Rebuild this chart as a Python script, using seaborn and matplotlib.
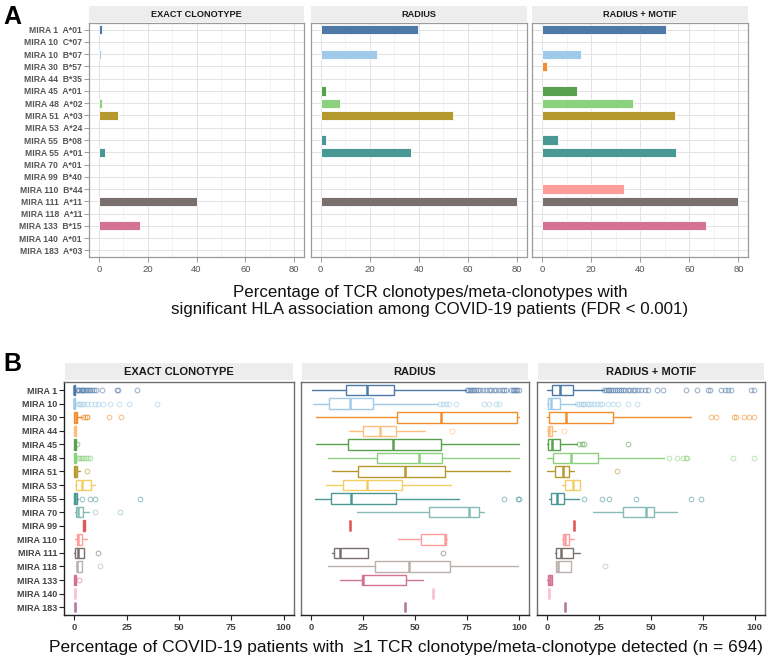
import numpy as np
import pandas as pd
import matplotlib
matplotlib.use("Agg")
import matplotlib.pyplot as plt
import seaborn as sns
from matplotlib.ticker import MultipleLocator, FixedLocator

sns.set_theme(style="white")
plt.rcParams['font.family'] = ['Liberation Sans', 'DejaVu Sans']

# ---------------- Panel A data ----------------
a_mira = ["MIRA 1", "MIRA 10", "MIRA 10", "MIRA 30", "MIRA 44", "MIRA 45", "MIRA 48",
          "MIRA 51", "MIRA 53", "MIRA 55", "MIRA 55", "MIRA 70", "MIRA 99", "MIRA 110",
          "MIRA 111", "MIRA 118", "MIRA 133", "MIRA 140", "MIRA 183"]
a_hla = ["A*01", "C*07", "B*07", "B*57", "B*35", "A*01", "A*02", "A*03", "A*24", "B*08",
         "A*01", "A*01", "B*40", "B*44", "A*11", "A*11", "B*15", "A*01", "A*03"]
a_exact = [1.5, 0, 0.8, 0, 0, 0, 1.2, 7.9, 0, 0, 2.4, 0, 0, 0, 40.3, 0, 16.8, 0, 0]
a_radius = [39.9, 0, 22.9, 0, 0, 2.4, 7.9, 54.0, 0, 2.2, 37.0, 0, 0, 0, 80.0, 0, 0, 0, 0]
a_motif = [50.3, 0, 15.9, 2.0, 0, 14.4, 37.0, 54.0, 0, 6.6, 54.4, 0, 0, 33.4, 80.0, 0, 66.7, 0, 0]
facet_names = ["EXACT CLONOTYPE", "RADIUS", "RADIUS + MOTIF"]

# ---------------- Panel B data ----------------
b_mira = ["MIRA 1", "MIRA 10", "MIRA 30", "MIRA 44", "MIRA 45", "MIRA 48", "MIRA 51",
          "MIRA 53", "MIRA 55", "MIRA 70", "MIRA 99", "MIRA 110", "MIRA 111", "MIRA 118",
          "MIRA 133", "MIRA 140", "MIRA 183"]

mira_colors = ["#4E79A7", "#A0CBE8", "#F28E2B", "#FFBE7D", "#59A14F", "#8CD17D", "#B6992D",
               "#F1CE63", "#499894", "#86BCB6", "#E15759", "#FF9D9A", "#79706E", "#BAB0AC",
               "#D37295", "#FABFD2", "#B07AA1"]

# exact clonotype
ex_lo  = [0, 0, 0, 0, 0, 0, 0, 0.3, 0, 0.3, 4.6, 0.2, 0, 0.6, 0, 0.2, 0.3]
ex_q1  = [0, 0, 0, 0, 0, 0, 0, 0.6, 0, 0.6, 4.2, 1.0, 0.3, 1.0, 0, 0.2, 0.3]
ex_med = [0, 0, 0.5, 0.1, 0.2, 0.2, 0.4, 3.4, 0.3, 1.8, 4.6, 1.8, 1.8, 1.3, 0.2, 0.2, 0.3]
ex_q3  = [0.4, 0.4, 1.3, 0.5, 0.9, 0.9, 1.2, 7.7, 1.3, 4.2, 5.0, 3.7, 4.5, 3.8, 0.6, 0.2, 0.3]
ex_hi  = [0.9, 0.9, 3.4, 0.5, 0.9, 1.3, 2.5, 9.9, 1.9, 7.0, 4.6, 6.1, 4.5, 3.8, 0.6, 0.2, 0.3]
ex_fl = [
    [1.2, 1.8, 2.4, 3.0, 3.6, 4.2, 4.8, 5.4, 6.0, 6.8, 7.6, 8.5, 9.4, 10.3, 13.4, 20.4, 21.0, 29.7],
    [1.2, 2.0, 2.8, 3.6, 4.4, 5.8, 8.1, 9.7, 11.3, 13.7, 17.0, 21.1, 26.2, 39.3],
    [4.2, 5.0, 5.8, 6.2, 16.6, 22.2],
    [],
    [1.4],
    [1.6, 2.3, 3.0, 3.8, 4.5, 5.4, 6.4, 7.6],
    [5.9],
    [],
    [3.4, 7.3, 9.7, 31.3],
    [9.7, 21.7],
    [], [], [11.3], [12.1], [2.2], [], [],
]

# radius
ra_lo  = [0.3, 0.8, 2.6, 18.2, 2.4, 8.1, 9.9, 7.0, 1.9, 21.9, 18.5, 41.9, 9.9, 8.3, 14.0, 58.7, 45.1]
ra_q1  = [16.6, 8.6, 41.3, 25.2, 17.9, 31.6, 22.8, 15.2, 9.6, 56.6, 18.5, 53.1, 10.8, 30.6, 24.4, 58.7, 45.1]
ra_med = [26.8, 18.5, 62.5, 33.3, 39.6, 51.7, 45.3, 27.1, 19.3, 75.8, 18.5, 64.6, 14.0, 46.9, 25.2, 58.7, 45.1]
ra_q3  = [40.0, 29.7, 99.0, 40.8, 62.4, 63.0, 64.4, 43.9, 40.8, 80.9, 18.5, 65.0, 27.6, 66.7, 45.5, 58.7, 45.1]
ra_hi  = [74.6, 61.0, 100.0, 54.9, 100.0, 100.0, 95.7, 67.5, 71.0, 83.1, 18.5, 65.6, 27.6, 99.4, 54.0, 58.7, 45.1]
ra_fl = [
    [75.0, 75.6, 76.3, 77.0, 77.8, 78.6, 79.5, 80.5, 81.5, 82.8, 84.0, 85.5, 86.8, 88.0, 89.2,
     90.5, 91.8, 93.0, 94.0, 96.3, 97.0, 97.8, 98.5, 99.2, 100.0],
    [61.9, 63.4, 65.0, 66.6, 69.5, 83.4, 85.8, 89.0, 90.6],
    [], [68.0], [], [], [], [],
    [92.8, 99.8, 100.0],
    [], [], [], [63.6], [], [], [], [],
]

# radius + motif
rm_lo  = [0, 0, 0, 0, 0, 0, 0, 7.2, 1.1, 21.9, 12.9, 7.3, 3.8, 4.1, 0, 0.8, 8.5]
rm_q1  = [2.6, 0.5, 1.0, 0.3, 0.5, 3.0, 3.8, 8.6, 2.1, 36.8, 12.9, 7.8, 4.5, 4.1, 0.3, 0.8, 8.5]
rm_med = [6.2, 1.8, 8.9, 1.1, 2.2, 11.3, 7.8, 12.6, 4.9, 47.5, 12.9, 8.5, 6.5, 5.1, 1.4, 0.8, 8.5]
rm_q3  = [12.6, 6.2, 31.7, 2.6, 6.2, 24.7, 10.4, 15.8, 8.1, 51.7, 12.9, 10.7, 12.4, 11.3, 2.6, 0.8, 8.5]
rm_hi  = [27.3, 13.7, 69.5, 4.1, 14.5, 56.5, 12.9, 15.8, 15.5, 62.7, 12.9, 13.1, 15.8, 11.3, 2.6, 0.8, 8.5]
rm_fl = [
    [27.5, 28.3, 29.2, 30.0, 30.9, 31.8, 32.7, 33.6, 34.6, 35.6, 36.6, 37.6, 38.8, 40.0, 41.3,
     42.6, 44.0, 45.4, 47.0, 48.8, 52.8, 56.0, 66.8, 72.0, 77.5, 78.3, 83.9, 85.5, 87.0, 88.7, 98.2, 99.8],
    [14.5, 15.3, 16.2, 17.1, 18.0, 19.0, 20.0, 21.2, 22.5, 24.0, 25.4, 26.5, 29.3, 32.0, 34.4, 39.2, 43.5],
    [78.8, 81.5, 90.3, 91.0, 95.0, 97.4, 99.8],
    [8.1],
    [15.3, 16.6, 17.7, 38.9],
    [58.7, 62.4, 65.6, 66.8, 67.5, 89.5, 99.8],
    [33.7],
    [],
    [18.0, 26.3, 29.7, 42.9, 69.4, 74.3],
    [], [], [], [], [28.0], [], [], [],
]

W, H = 768, 659
fig = plt.figure(figsize=(W / 100, H / 100), dpi=100)


def rect(l, t, r, b):
    return [l / W, 1 - b / H, (r - l) / W, (b - t) / H]


def strip(l, t, r, b, text, size):
    sa = fig.add_axes(rect(l, t, r, b))
    sa.set_facecolor("#EDEDED")
    sa.set_xticks([]); sa.set_yticks([])
    for s in sa.spines.values():
        s.set_visible(False)
    sa.text(0.5, 0.48, text, ha="center", va="center", fontsize=size,
            fontweight="bold", color="#1A1A1A", transform=sa.transAxes)


# ---------------- Panel A ----------------
a_labels = [f"{m}  {h}" for m, h in zip(a_mira, a_hla)]
pal_map = dict(zip(b_mira, mira_colors))
a_vals = [a_exact, a_radius, a_motif]
a_x = [(89, 304), (310.7, 526.7), (532.3, 748.3)]
for k in range(3):
    l, r = a_x[k]
    ax = fig.add_axes(rect(l, 23, r, 257))
    df = pd.DataFrame({"label": a_labels, "value": a_vals[k], "mira": a_mira})
    sns.barplot(data=df, y="label", x="value", hue="mira", palette=pal_map, order=a_labels,
                orient="h", width=0.75, dodge=False, legend=False, ax=ax,
                edgecolor="white", linewidth=0.6, saturation=1)
    for p in ax.patches:
        if p.get_width() == 0:
            p.set_visible(False)
    ax.set_xlim(-4, 84)
    ax.set_ylim(len(a_labels) - 0.5 + 0.05, -0.55)
    ax.xaxis.set_major_locator(MultipleLocator(20))
    ax.xaxis.set_minor_locator(MultipleLocator(10))
    ax.set_axisbelow(True)
    ax.grid(True, which="major", axis="both", color="#E3E3E3", linewidth=0.7)
    ax.grid(True, which="minor", axis="x", color="#F0F0F0", linewidth=0.5)
    for s in ax.spines.values():
        s.set_color("#9A9A9A"); s.set_linewidth(0.9)
    ax.set_xlabel(""); ax.set_ylabel("")
    ax.tick_params(axis="x", which="major", length=3.5, width=0.7, color="#9A9A9A",
                   labelsize=6.8, labelcolor="#555555", pad=2, bottom=True)
    ax.tick_params(axis="x", which="minor", length=0)
    if k == 0:
        ax.tick_params(axis="y", length=3.5, width=0.7, color="#9A9A9A", labelsize=6.2,
                       labelcolor="#555555", pad=1.5, left=True)
        for t in ax.get_yticklabels():
            t.set_fontweight("bold")
    else:
        ax.tick_params(axis="y", length=0, labelleft=False)
    strip(l, 6, r, 21.5, facet_names[k], 6.6)

fig.text(3 / W, 1 - 24 / H, "A", fontsize=18, fontweight="bold", ha="left", va="baseline",
         color="black")
fig.text(430 / W, 1 - 297 / H, "Percentage of TCR clonotypes/meta-clonotypes with",
         ha="center", va="baseline", fontsize=12.2, color="#111111")
fig.text(430 / W, 1 - 314 / H, "significant HLA association among COVID-19 patients (FDR < 0.001)",
         ha="center", va="baseline", fontsize=12.2, color="#111111")

# ---------------- Panel B ----------------
b_sets = [(ex_lo, ex_q1, ex_med, ex_q3, ex_hi, ex_fl),
          (ra_lo, ra_q1, ra_med, ra_q3, ra_hi, ra_fl),
          (rm_lo, rm_q1, rm_med, rm_q3, rm_hi, rm_fl)]
b_x = [(64, 294), (300.7, 529.3), (536.7, 765)]
for k in range(3):
    l, r = b_x[k]
    ax = fig.add_axes(rect(l, 381.7, r, 615))
    lo, q1, med, q3, hi, fl = b_sets[k]
    for i in range(len(b_mira)):
        c = mira_colors[i]
        st = [dict(med=med[i], q1=q1[i], q3=q3[i], whislo=lo[i], whishi=hi[i], fliers=fl[i])]
        ax.bxp(st, positions=[i], widths=0.78, orientation="horizontal", patch_artist=True,
               showcaps=False, manage_ticks=False,
               boxprops=dict(facecolor="white", edgecolor=c, linewidth=1.0),
               medianprops=dict(color=c, linewidth=1.8),
               whiskerprops=dict(color=c, linewidth=1.0),
               flierprops=dict(marker="o", markerfacecolor="none", markeredgecolor=c,
                               markersize=3.4, markeredgewidth=0.7, alpha=0.6))
    ax.set_xlim(-5, 105)
    ax.set_ylim(len(b_mira) - 1 + 0.58, -0.62)
    ax.xaxis.set_major_locator(FixedLocator([0, 25, 50, 75, 100]))
    ax.set_yticks(range(len(b_mira)))
    ax.set_yticklabels(b_mira)
    ax.grid(False)
    for s in ax.spines.values():
        s.set_color("#6E6E6E"); s.set_linewidth(1.0)
    ax.spines["bottom"].set_color("#222222")
    ax.tick_params(axis="x", length=3.5, width=0.8, color="#222222", labelsize=6.8,
                   labelcolor="#444444", pad=2, bottom=True)
    for t in ax.get_xticklabels():
        t.set_fontweight("bold")
    if k == 0:
        ax.spines["left"].set_color("#222222")
        ax.tick_params(axis="y", length=3.5, width=0.8, color="#222222", labelsize=6.5,
                       labelcolor="#444444", pad=1.5, left=True)
        for t in ax.get_yticklabels():
            t.set_fontweight("bold")
    else:
        ax.tick_params(axis="y", length=0, labelleft=False)
    strip(l + 1, 363, r - 1, 380, facet_names[k], 8)

fig.text(3 / W, 1 - 371 / H, "B", fontsize=18, fontweight="bold", ha="left", va="baseline",
         color="black")
fig.text(406 / W, 1 - 652 / H,
         "Percentage of COVID-19 patients with  \u22651 TCR clonotype/meta-clonotype detected (n = 694)",
         ha="center", va="baseline", fontsize=12.5, color="#111111")

fig.savefig("out.png", dpi=100)
